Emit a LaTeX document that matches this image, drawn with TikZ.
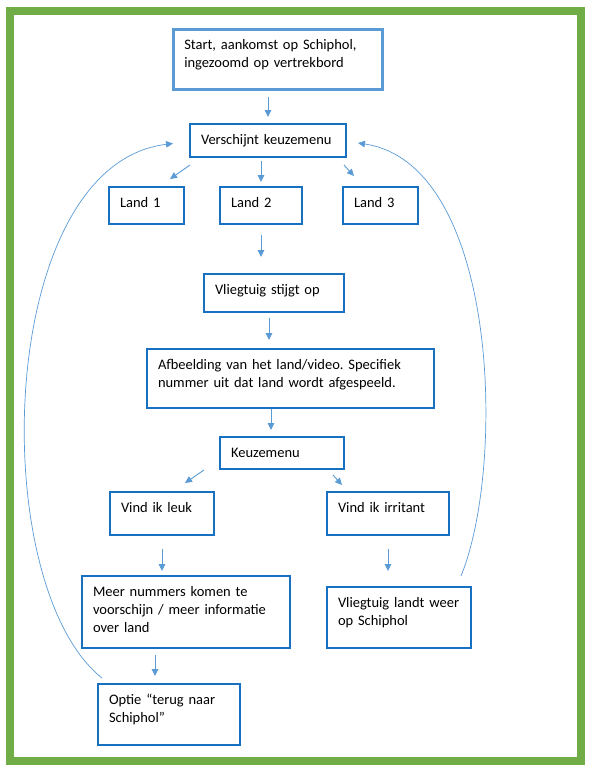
\documentclass[tikz,border=0pt]{standalone}
\usepackage{fontspec}
\setmainfont{Carlito}
\usetikzlibrary{arrows.meta}
\definecolor{kadergroen}{RGB}{112,173,71}
\definecolor{boxblauw}{RGB}{24,112,192}
\definecolor{lichtblauw}{RGB}{91,155,213}
\begin{document}
\frenchspacing
\begin{tikzpicture}[x=1pt,y=-1pt,
  font=\fontsize{14.5}{18}\selectfont,
  stap/.style={draw=boxblauw, line width=2pt, anchor=north west, align=left,
    inner xsep=11pt, inner ysep=7pt, text height=13pt},
  pijl/.style={draw=lichtblauw, line width=0.9pt, -{Triangle[length=7pt,width=6.5pt]}},
  boog/.style={draw=lichtblauw, line width=0.7pt, -{Triangle[length=7pt,width=6.5pt]}}]
  \fill[white] (0,0) rectangle (594,780);
  \useasboundingbox (0,0) rectangle (594,780);
  \draw[kadergroen, line width=8pt] (10,11) rectangle (581,761);

  \node[stap, draw=lichtblauw, line width=2.5pt, text width=187pt, text depth=33pt] (start) at (172,28)
    {Start, aankomst op Schiphol,\\ingezoomd op vertrekbord};
  \node[stap, text width=134pt, text depth=6pt] (keuze) at (189,123) {Verschijnt keuzemenu};
  \foreach \i/\x/\w in {1/108/53, 2/219/60, 3/342/53}{
    \node[stap, text width=\w pt, text depth=10pt] (land\i) at (\x,186) {Land \i};
  }
  \node[stap, text width=118pt, text depth=11pt] (stijgt) at (203,273) {Vliegtuig stijgt op};
  \node[stap, text width=265pt, text depth=32pt] (afb) at (146,348)
    {Afbeelding van het land/video. Specifiek\\nummer uit dat land wordt afgespeeld.};
  \node[stap, text width=102pt, text depth=5pt] (menu) at (219,436) {Keuzemenu};
  \node[stap, text width=82pt, text depth=16pt] (leuk) at (109,491) {Vind ik leuk};
  \node[stap, text width=100pt, text depth=16pt] (irritant) at (326,491) {Vind ik irritant};
  \node[stap, text width=186pt, text depth=45pt] (meer) at (81,575)
    {Meer nummers komen te\\voorschijn / meer informatie\\over land};
  \node[stap, text width=122pt, text depth=34pt] (landt) at (326,586)
    {Vliegtuig landt weer\\op Schiphol};
  \node[stap, text width=120pt, text depth=34pt] (optie) at (97,683)
    {Optie ``terug naar\\Schiphol''};

  \draw[pijl, shorten <=6pt, shorten >=6pt] (keuze.north |- start.south) -- (keuze.north);
  \draw[pijl] ([shift={(1pt,-7pt)}]keuze.south west) -- ([shift={(-15pt,7pt)}]land1.north east);
  \draw[pijl, shorten <=3pt, shorten >=4pt] (land2.north |- keuze.south) -- (land2.north);
  \draw[pijl] ([shift={(-3pt,-7pt)}]keuze.south east) -- ([shift={(12pt,10pt)}]land3.north west);
  \draw[pijl, shorten <=10pt, shorten >=16pt] (land2.south) -- (land2.south |- stijgt.north);
  \draw[pijl, shorten <=5pt, shorten >=8pt] ([xshift=-5pt]stijgt.south) -- ([xshift=-5pt]stijgt.south |- afb.north);
  \draw[pijl, shorten >=6pt] ([xshift=-11pt]menu.north |- afb.south) -- ([xshift=-11pt]menu.north);
  \draw[pijl] ([xshift=-15pt]menu.south west) -- ([shift={(-30pt,8pt)}]leuk.north east);
  \draw[pijl] ([shift={(-12pt,-5pt)}]menu.south east) -- ([shift={(16pt,6pt)}]irritant.north west);
  \draw[pijl, shorten <=13pt, shorten >=4pt] (leuk.south) -- (leuk.south |- meer.north);
  \draw[pijl, shorten <=13pt, shorten >=15pt] (irritant.south) -- (irritant.south |- landt.north);
  \draw[pijl, shorten <=6pt, shorten >=7pt] ([xshift=-14pt]optie.north |- meer.south) -- ([xshift=-14pt]optie.north);

  % terug naar het keuzemenu
  \draw[boog] ([shift={(5pt,5pt)}]optie.north west) .. controls (-15,585) and (-5,165) .. ([shift={(-16pt,-3pt)}]keuze.west);
  \draw[boog] ([shift={(-11pt,10pt)}]landt.north east) .. controls (506,466) and (499,164) .. ([shift={(11pt,-2.5pt)}]keuze.east);
\end{tikzpicture}
\end{document}
